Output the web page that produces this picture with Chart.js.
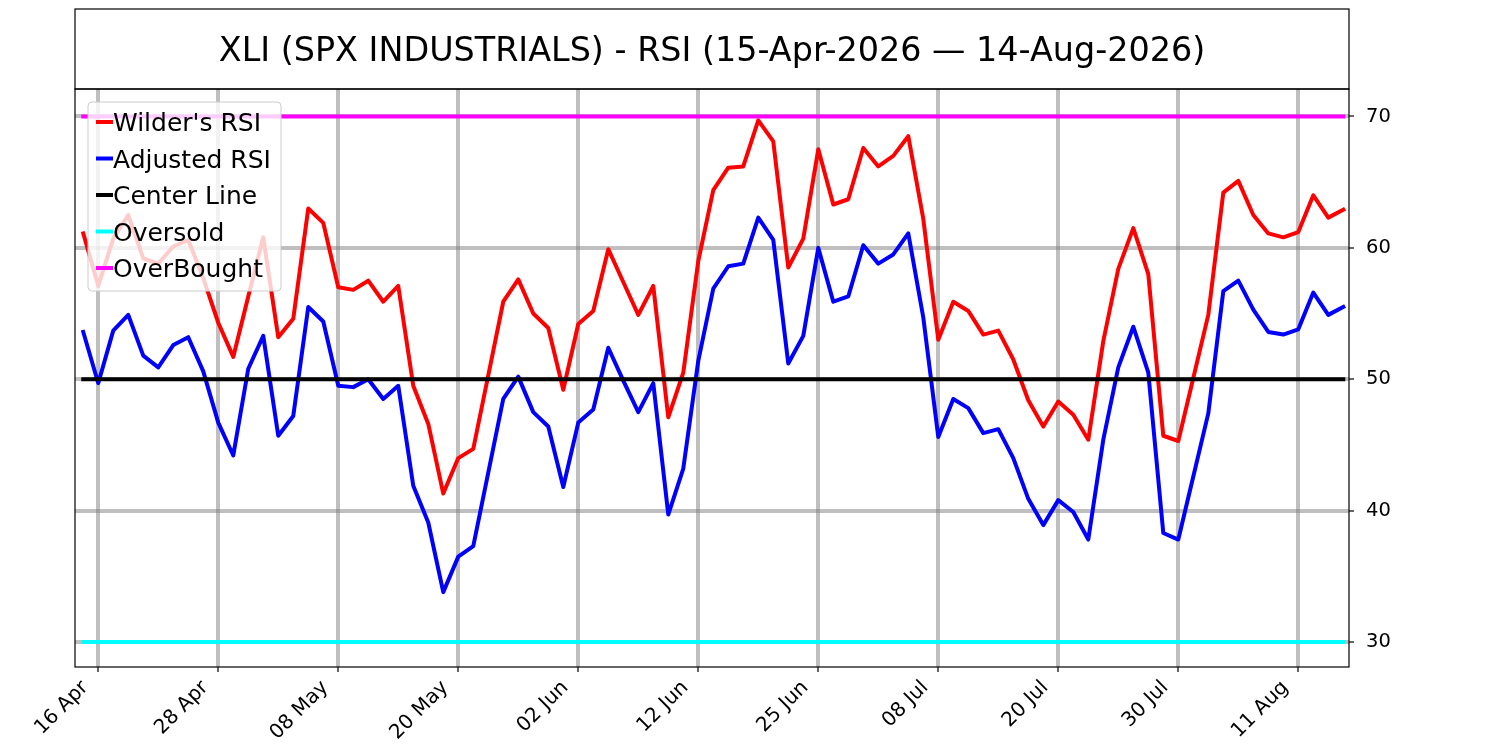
<!DOCTYPE html>
<html>
<head>
<meta charset="utf-8">
<script src="https://cdn.jsdelivr.net/npm/chart.js@4.4.1/dist/chart.umd.min.js"></script>
<style>
  html, body { margin: 0; padding: 0; background: #fff; }
</style>
</head>
<body>
<canvas id="chart" width="1500" height="750"></canvas>
<script>
// trading days, 15-Apr-2026 .. 14-Aug-2026
var dates = [
  '15 Apr', '16 Apr', '17 Apr', '20 Apr', '21 Apr', '22 Apr', '23 Apr', '24 Apr', '27 Apr', '28 Apr', '29 Apr', '30 Apr',
  '01 May', '04 May', '05 May', '06 May', '07 May', '08 May', '11 May', '12 May', '13 May', '14 May', '15 May',
  '18 May', '19 May', '20 May', '21 May', '22 May', '26 May', '27 May', '28 May', '29 May',
  '01 Jun', '02 Jun', '03 Jun', '04 Jun', '05 Jun', '08 Jun', '09 Jun', '10 Jun', '11 Jun', '12 Jun',
  '15 Jun', '16 Jun', '17 Jun', '18 Jun', '22 Jun', '23 Jun', '24 Jun', '25 Jun', '26 Jun', '29 Jun', '30 Jun',
  '01 Jul', '02 Jul', '06 Jul', '07 Jul', '08 Jul', '09 Jul', '10 Jul', '13 Jul', '14 Jul', '15 Jul', '16 Jul', '17 Jul',
  '20 Jul', '21 Jul', '22 Jul', '23 Jul', '24 Jul', '27 Jul', '28 Jul', '29 Jul', '30 Jul', '31 Jul',
  '03 Aug', '04 Aug', '05 Aug', '06 Aug', '07 Aug', '10 Aug', '11 Aug', '12 Aug', '13 Aug', '14 Aug'
];

var wilderRsi = [
  61.1, 57.1, 60.7, 62.5, 59.2, 58.8, 60.1, 60.6, 57.7, 54.3, 51.7, 56.3,
  60.8, 53.2, 54.6, 63.0, 61.9, 57.0, 56.8, 57.5, 55.9, 57.1, 49.5,
  46.6, 41.3, 44.0, 44.7, 50.3, 55.9, 57.6, 55.0, 53.9,
  49.2, 54.2, 55.2, 59.9, 57.4, 54.9, 57.1, 47.1, 50.5, 59.0,
  64.4, 66.1, 66.2, 69.7, 68.1, 58.5, 60.7, 67.5, 63.3, 63.7, 67.6,
  66.2, 67.0, 68.5, 62.2, 53.0, 55.9, 55.2, 53.4, 53.7, 51.5, 48.4, 46.4,
  48.3, 47.3, 45.4, 52.9, 58.4, 61.5, 58.0, 45.7, 45.3, 50.1,
  54.9, 64.2, 65.1, 62.5, 61.1, 60.8, 61.2, 64.0, 62.3, 62.9
];

var adjustedRsi = [
  53.6, 49.7, 53.7, 54.9, 51.8, 50.9, 52.6, 53.2, 50.6, 46.7, 44.2, 50.8,
  53.3, 45.7, 47.2, 55.5, 54.4, 49.5, 49.4, 50.0, 48.5, 49.5, 41.9,
  39.1, 33.8, 36.5, 37.3, 42.9, 48.5, 50.2, 47.5, 46.4,
  41.8, 46.7, 47.7, 52.4, 49.9, 47.5, 49.7, 39.7, 43.2, 51.4,
  56.9, 58.6, 58.8, 62.3, 60.6, 51.2, 53.3, 60.0, 55.9, 56.3, 60.2,
  58.8, 59.5, 61.1, 54.7, 45.6, 48.5, 47.8, 45.9, 46.2, 44.0, 40.9, 38.9,
  40.8, 39.9, 37.8, 45.4, 50.9, 54.0, 50.5, 38.3, 37.8, 42.6,
  47.4, 56.7, 57.5, 55.3, 53.6, 53.4, 53.8, 56.6, 54.9, 55.5
];

var centerLevel = 50;
var oversoldLevel = 30;
var overboughtLevel = 70;

var tickLabels = ['16 Apr', '28 Apr', '08 May', '20 May', '02 Jun', '12 Jun', '25 Jun', '08 Jul', '20 Jul', '30 Jul', '11 Aug'];
var yTicks = [30, 40, 50, 60, 70];
var titleText = 'XLI (SPX INDUSTRIALS) - RSI (15-Apr-2026 \u2014 14-Aug-2026)';

var FONT = '"DejaVu Sans", "Noto Sans", sans-serif';
var xTickIdx = tickLabels.map(function (t) { return dates.indexOf(t); });

function points(vals) {
  return vals.map(function (v, i) { return { x: i, y: v }; });
}
function level(v) {
  return [{ x: 0, y: v }, { x: dates.length - 1, y: v }];
}
function lineSet(label, data, color, order) {
  return {
    label: label, data: data, borderColor: color, backgroundColor: color,
    borderWidth: 4, pointRadius: 0, tension: 0, fill: false,
    borderCapStyle: 'square', borderJoinStyle: 'round', order: order
  };
}

// title box, axes frame and legend, drawn like the matplotlib figure
var framePlugin = {
  id: 'frame',
  afterDraw: function (chart) {
    var ctx = chart.ctx, a = chart.chartArea;
    ctx.save();
    ctx.strokeStyle = '#000';
    ctx.lineWidth = 1.2;
    ctx.strokeRect(a.left, 9, a.right - a.left, a.top - 9);
    ctx.strokeRect(a.left, a.top, a.right - a.left, a.bottom - a.top);

    ctx.fillStyle = '#000';
    ctx.font = '33.4px ' + FONT;
    ctx.textAlign = 'center';
    ctx.textBaseline = 'alphabetic';
    ctx.fillText(titleText, (a.left + a.right) / 2, 61);

    // legend
    var x0 = a.left + 13, y0 = a.top + 13, w = 193, h = 189, r = 4;
    ctx.beginPath();
    ctx.moveTo(x0 + r, y0);
    ctx.arcTo(x0 + w, y0, x0 + w, y0 + h, r);
    ctx.arcTo(x0 + w, y0 + h, x0, y0 + h, r);
    ctx.arcTo(x0, y0 + h, x0, y0, r);
    ctx.arcTo(x0, y0, x0 + w, y0, r);
    ctx.closePath();
    ctx.fillStyle = 'rgba(255,255,255,0.8)';
    ctx.fill();
    ctx.strokeStyle = '#cccccc';
    ctx.lineWidth = 1;
    ctx.stroke();

    ctx.font = '25px ' + FONT;
    ctx.textAlign = 'left';
    chart.data.datasets.forEach(function (ds, k) {
      var cy = y0 + 20 + k * 36.5;
      ctx.strokeStyle = ds.borderColor;
      ctx.lineWidth = 4;
      ctx.lineCap = 'butt';
      ctx.beginPath();
      ctx.moveTo(x0 + 8, cy);
      ctx.lineTo(x0 + 25, cy);
      ctx.stroke();
      ctx.fillStyle = '#000';
      ctx.fillText(ds.label, x0 + 25, cy + 9);
    });
    ctx.restore();
  }
};

var gridStyle = {
  color: 'rgba(128,128,128,0.5)',
  lineWidth: 4,
  tickColor: '#000',
  tickWidth: 1.2,
  tickLength: 5
};

var ctx = document.getElementById('chart').getContext('2d');
var chart = new Chart(ctx, {
  type: 'line',
  data: {
    datasets: [
      lineSet("Wilder's RSI", points(wilderRsi), '#ff0000', 5),
      lineSet('Adjusted RSI', points(adjustedRsi), '#0000ff', 4),
      lineSet('Center Line', level(centerLevel), '#000000', 3),
      lineSet('Oversold', level(oversoldLevel), '#00ffff', 2),
      lineSet('OverBought', level(overboughtLevel), '#ff00ff', 1)
    ]
  },
  options: {
    responsive: false,
    animation: false,
    devicePixelRatio: 1,
    layout: { padding: { left: 75, top: 89, right: 0, bottom: 0 } },
    plugins: {
      legend: { display: false },
      title: { display: false },
      tooltip: { enabled: false }
    },
    scales: {
      x: {
        type: 'linear',
        min: -0.55,
        max: 84.38,
        afterBuildTicks: function (s) {
          s.ticks = xTickIdx.map(function (v) { return { value: v }; });
        },
        afterFit: function (s) { s.height = 83; },
        grid: gridStyle,
        border: { display: false },
        ticks: {
          autoSkip: false,
          minRotation: 45,
          maxRotation: 45,
          padding: 4,
          labelOffset: -13,
          color: '#000',
          font: { family: FONT, size: 20 },
          callback: function (v) { return dates[v]; }
        }
      },
      y: {
        position: 'right',
        min: 28.1,
        max: 72.09,
        afterBuildTicks: function (s) {
          s.ticks = yTicks.map(function (v) { return { value: v }; });
        },
        afterFit: function (s) { s.width = 151; },
        grid: gridStyle,
        border: { display: false },
        ticks: {
          padding: 12,
          color: '#000',
          font: { family: FONT, size: 19.5 }
        }
      }
    }
  },
  plugins: [framePlugin]
});
</script>
</body>
</html>
